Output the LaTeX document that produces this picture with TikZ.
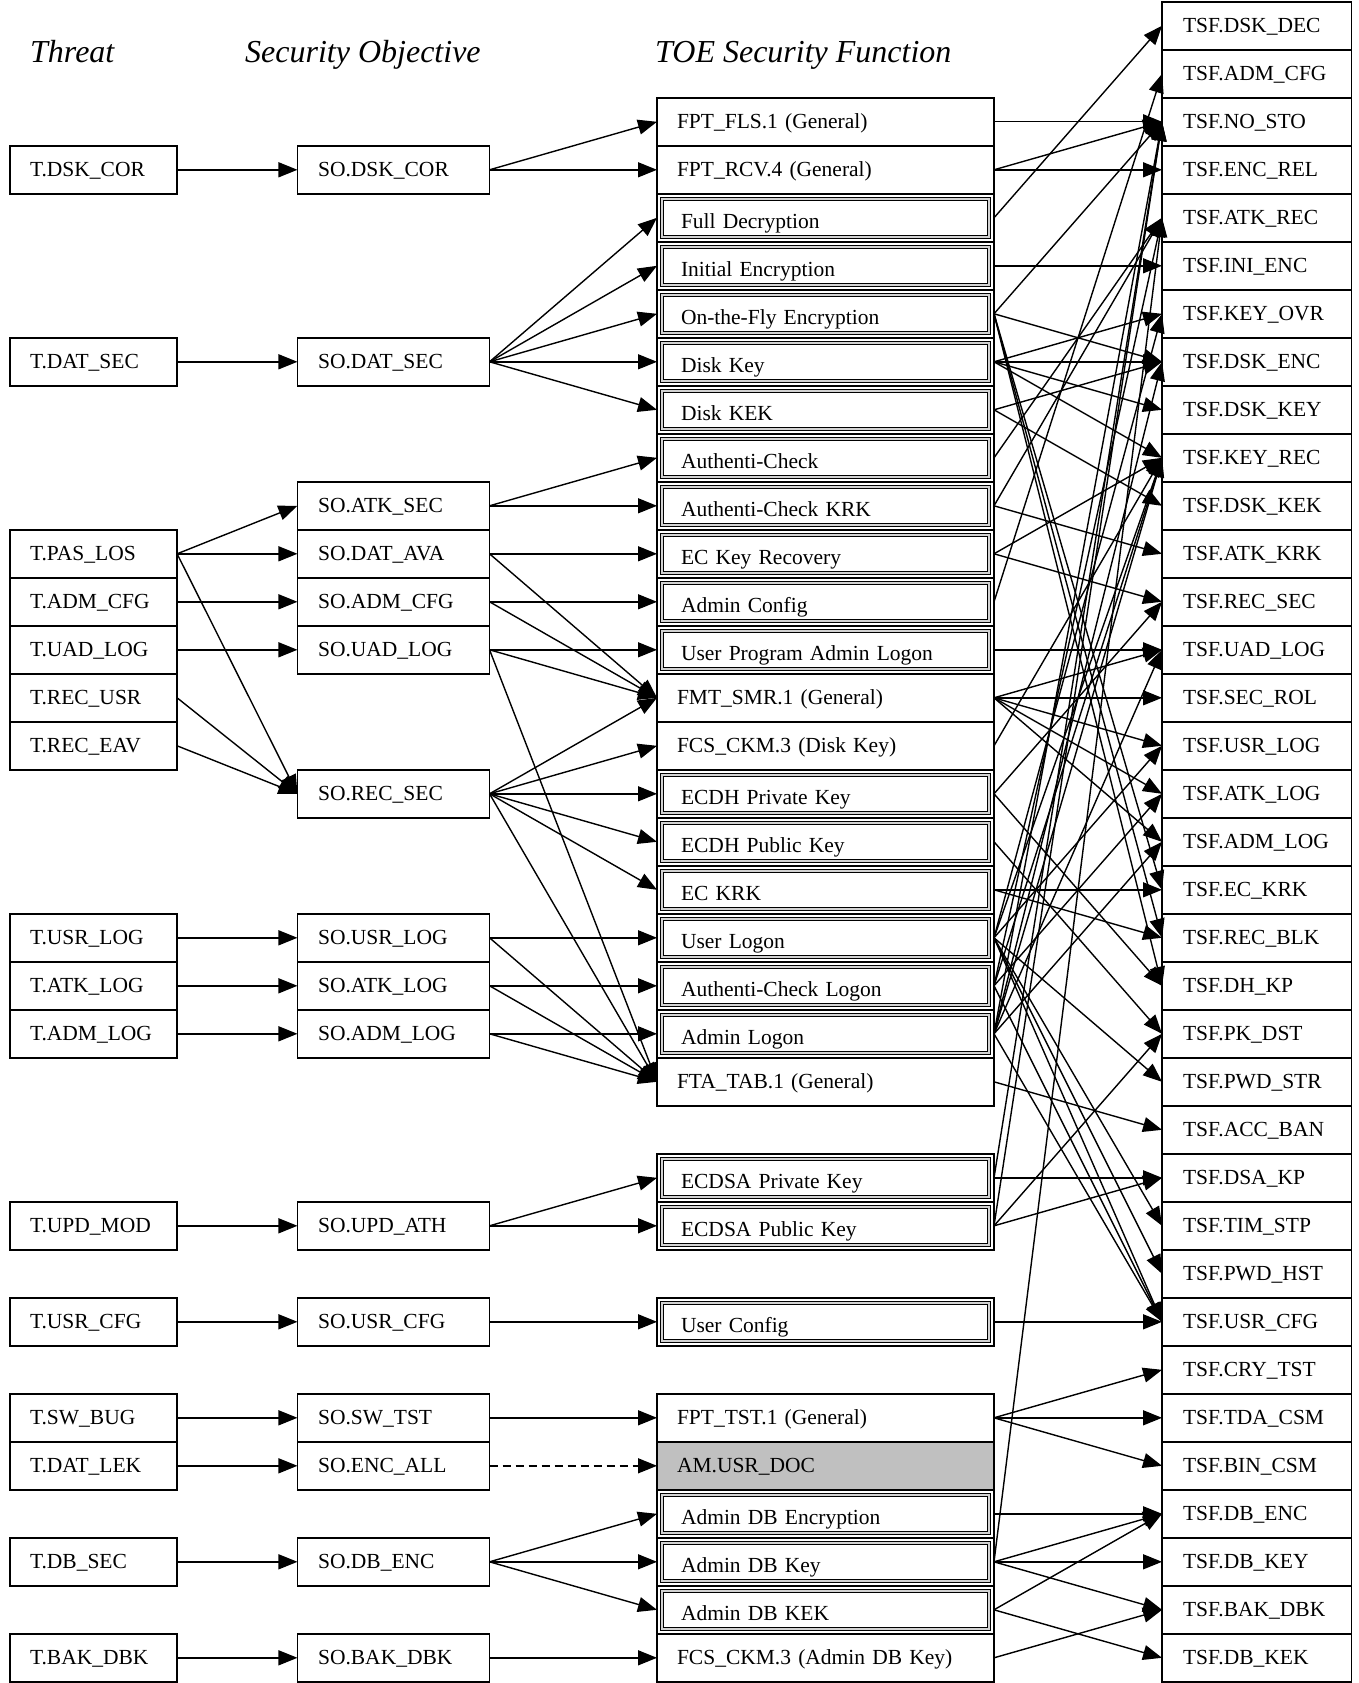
\documentclass[tikz,border=0pt]{standalone}
\usepackage{fontspec}
\setmainfont{Liberation Serif}
\usetikzlibrary{arrows.meta}
\definecolor{amgray}{RGB}{192,192,192}
\begin{document}
\begin{tikzpicture}[x=1pt,y=-1pt,
  base/.style={draw, line width=1.6pt, minimum height=48pt, inner ysep=0pt, outer sep=0pt, align=left, font=\fontsize{21.5}{24}\selectfont, text height=14.2pt, text depth=0pt},
  tbox/.style={base, minimum width=167.4pt, inner xsep=20.3pt, text width=126.8pt},
  sbox/.style={base, minimum width=192.1pt, inner xsep=20.6pt, text width=150.9pt},
  fbox/.style={base, minimum width=337pt, inner xsep=20pt, text width=297pt},
  dbox/.style={base, minimum width=337pt, inner xsep=24pt, text width=289pt, text height=21.2pt},
  zbox/.style={base, minimum width=189.5pt, inner xsep=21pt, text width=147.5pt},
  innerframe/.style={draw, line width=1.1pt, double=gray!35, double distance=2.2pt},
  arr/.style={line width=1.4pt, -{Triangle[length=19pt,width=15pt]}},
  darr/.style={arr, dash pattern=on 8pt off 5pt},
  head/.style={font=\fontsize{32}{36}\selectfont\itshape, anchor=base west, inner sep=0pt},
]
\useasboundingbox (0,0) rectangle (1359,1683);
\fill[white] (0,0) rectangle (1359,1683);

% headers
\node[head] (h1) at (30,63) {Threat};
\node[head] (h2) at (245,63) {Security Objective};
\node[head] (h3) at (655,63) {TOE Security Function};

% threats
\foreach \r/\t in {3/T.DSK\_COR, 7/T.DAT\_SEC, 11/T.PAS\_LOS, 12/T.ADM\_CFG, 13/T.UAD\_LOG, 14/T.REC\_USR, 15/T.REC\_EAV, 19/T.USR\_LOG, 20/T.ATK\_LOG, 21/T.ADM\_LOG, 25/T.UPD\_MOD, 27/T.USR\_CFG, 29/T.SW\_BUG, 30/T.DAT\_LEK, 32/T.DB\_SEC, 34/T.BAK\_DBK}
  \node[tbox] (t\r) at (93.4,{25.8+48*\r}) {\t};

% security objectives
\foreach \r/\t in {3/SO.DSK\_COR, 7/SO.DAT\_SEC, 10/SO.ATK\_SEC, 11/SO.DAT\_AVA, 12/SO.ADM\_CFG, 13/SO.UAD\_LOG, 16/SO.REC\_SEC, 19/SO.USR\_LOG, 20/SO.ATK\_LOG, 21/SO.ADM\_LOG, 25/SO.UPD\_ATH, 27/SO.USR\_CFG, 29/SO.SW\_TST, 30/SO.ENC\_ALL, 32/SO.DB\_ENC, 34/SO.BAK\_DBK}
  \node[sbox] (s\r) at (393.5,{25.8+48*\r}) {\t};

% TOE functions, single frame
\foreach \r/\t in {2/FPT\_FLS.1 (General), 3/FPT\_RCV.4 (General), 14/FMT\_SMR.1 (General), 15/FCS\_CKM.3 (Disk Key), 22/FTA\_TAB.1 (General), 29/FPT\_TST.1 (General), 34/FCS\_CKM.3 (Admin DB Key)}
  \node[fbox] (f\r) at (825.5,{25.8+48*\r}) {\t};
\node[fbox, fill=amgray] (f30) at (825.5,{25.8+48*30}) {AM.USR\_DOC};

% TOE functions, double frame
\foreach \r/\t in {4/Full Decryption, 5/Initial Encryption, 6/On-the-Fly Encryption, 7/Disk Key, 8/Disk KEK, 9/Authenti-Check, 10/Authenti-Check KRK, 11/EC Key Recovery, 12/Admin Config, 13/User Program Admin Logon, 16/ECDH Private Key, 17/ECDH Public Key, 18/EC KRK, 19/User Logon, 20/Authenti-Check Logon, 21/Admin Logon, 24/ECDSA Private Key, 25/ECDSA Public Key, 27/User Config, 31/Admin DB Encryption, 32/Admin DB Key, 33/Admin DB KEK}
  {\node[dbox] (f\r) at (825.5,{25.8+48*\r}) {\t};
   \draw[innerframe] ([shift={(5,5)}]f\r.north west) rectangle ([shift={(-5,-5)}]f\r.south east);}

% TSF
\foreach \r/\t in {0/TSF.DSK\_DEC, 1/TSF.ADM\_CFG, 2/TSF.NO\_STO, 3/TSF.ENC\_REL, 4/TSF.ATK\_REC, 5/TSF.INI\_ENC, 6/TSF.KEY\_OVR, 7/TSF.DSK\_ENC, 8/TSF.DSK\_KEY, 9/TSF.KEY\_REC, 10/TSF.DSK\_KEK, 11/TSF.ATK\_KRK, 12/TSF.REC\_SEC, 13/TSF.UAD\_LOG, 14/TSF.SEC\_ROL, 15/TSF.USR\_LOG, 16/TSF.ATK\_LOG, 17/TSF.ADM\_LOG, 18/TSF.EC\_KRK, 19/TSF.REC\_BLK, 20/TSF.DH\_KP, 21/TSF.PK\_DST, 22/TSF.PWD\_STR, 23/TSF.ACC\_BAN, 24/TSF.DSA\_KP, 25/TSF.TIM\_STP, 26/TSF.PWD\_HST, 27/TSF.USR\_CFG, 28/TSF.CRY\_TST, 29/TSF.TDA\_CSM, 30/TSF.BIN\_CSM, 31/TSF.DB\_ENC, 32/TSF.DB\_KEY, 33/TSF.BAK\_DBK, 34/TSF.DB\_KEK}
  \node[zbox] (z\r) at (1256.8,{25.8+48*\r}) {\t};

% threat -> objective
\foreach \a/\b in {3/3, 7/7, 11/10, 11/11, 11/16, 12/12, 13/13, 14/16, 15/16, 19/19, 20/20, 21/21, 25/25, 27/27, 29/29, 30/30, 32/32, 34/34}
  \draw[arr] (t\a.east) -- (s\b.west);

% objective -> TOE function
\foreach \a/\b in {3/2, 3/3, 7/4, 7/5, 7/6, 7/7, 7/8, 10/9, 10/10, 11/11, 11/14, 12/12, 12/14, 13/13, 13/14, 13/22, 16/14, 16/15, 16/16, 16/17, 16/18, 16/22, 19/19, 19/22, 20/20, 20/22, 21/21, 21/22, 25/24, 25/25, 27/27, 29/29, 32/31, 32/32, 32/33, 34/34}
  \draw[arr] (s\a.east) -- (f\b.west);
\draw[darr] (s30.east) -- (f30.west);

% TOE function -> TSF
\foreach \a/\b in {2/2, 3/2, 3/3, 4/0, 5/5, 6/2, 6/7, 6/18, 6/19, 6/20, 7/6, 7/7, 7/8, 7/9, 8/7, 8/10, 9/4, 10/4, 10/11, 11/9, 11/12, 12/1, 13/13, 14/13, 14/14, 14/15, 14/16, 14/17, 15/9, 16/12, 16/20, 17/21, 18/18, 18/19, 19/6, 19/9, 19/15, 19/22, 19/25, 19/26, 19/27, 20/4, 20/9, 20/16, 20/27, 21/2, 21/7, 21/9, 21/13, 21/17, 21/27, 22/23, 24/2, 24/24, 25/2, 25/21, 25/24, 27/27, 29/28, 29/29, 29/30, 31/31, 32/4, 32/31, 32/32, 32/33, 33/31, 33/34, 34/33}
  \draw[arr] (f\a.east) -- (z\b.west);
\end{tikzpicture}
\end{document}
